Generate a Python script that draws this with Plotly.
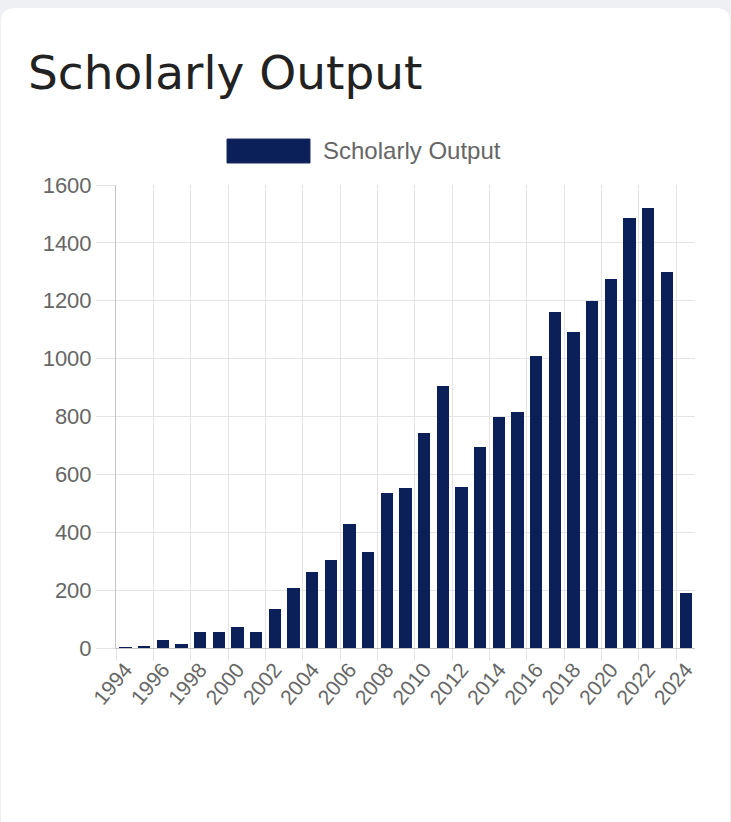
import plotly.graph_objects as go

years = list(range(1994, 2025))
output = [1, 6, 27, 15, 55, 57, 73, 55, 136, 207, 263, 303, 430, 332, 536, 553,
          743, 905, 557, 695, 797, 816, 1010, 1162, 1093, 1199, 1275, 1487, 1521,
          1300, 191]
label_years = years[::2]

W, H = 731, 822
L, R, T, B = 116, 36, 185, 174
NAVY = "#0b1f59"
GRID = "#e4e4e4"
AXIS = "#c4c4c4"
TXT = "#666666"


def px(x, y):
    # pixel position -> paper coords of the plot area
    return (x - L) / (W - L - R), (H - B - y) / (H - T - B)


fig = go.Figure()
fig.add_trace(go.Bar(
    x=years,
    y=output,
    width=0.66,
    marker=dict(color=NAVY, line=dict(width=0)),
    name="Scholarly Output",
    showlegend=False,
))

x0, y0 = px(1, 8)
x1, y1 = px(730, 840)
r = 14 / (W - L - R)
ry = 14 / (H - T - B)
card = (f"M {x0},{y0 - ry} Q {x0},{y0} {x0 + r},{y0} L {x1 - r},{y0} "
        f"Q {x1},{y0} {x1},{y0 - ry} L {x1},{y1} L {x0},{y1} Z")

lx0, ly0 = px(227, 139)
lx1, ly1 = px(310, 163)
tx, ty = px(321, 150)

fig.update_layout(
    width=W,
    height=H,
    margin=dict(l=L, r=R, t=T, b=B),
    paper_bgcolor="#eef0f3",
    plot_bgcolor="rgba(0,0,0,0)",
    font=dict(family="Liberation Sans, Arial", color=TXT, size=21),
    title=dict(
        text="Scholarly Output",
        xref="container", yref="container",
        x=28 / W, xanchor="left",
        y=1 - 73 / H, yanchor="middle",
        font=dict(family="DejaVu Sans", size=47, color="#222222"),
    ),
    shapes=[
        dict(type="path", path=card, xref="paper", yref="paper",
             fillcolor="white", line=dict(width=0), layer="below"),
        dict(type="rect", xref="paper", yref="paper",
             x0=lx0, x1=lx1, y0=ly0, y1=ly1,
             fillcolor=NAVY, line=dict(width=1, color="#1c2c60")),
    ],
    annotations=[
        dict(text="Scholarly Output", xref="paper", yref="paper",
             x=tx, y=ty, xanchor="left", yanchor="middle", showarrow=False,
             font=dict(size=24, color=TXT)),
    ],
    bargap=0,
)

fig.update_xaxes(
    range=[1993.5, 2024.5],
    tickvals=label_years,
    ticktext=[str(y) for y in label_years],
    tickangle=-50,
    ticks="",
    showgrid=False,
    showline=True,
    linecolor=AXIS,
    linewidth=1,
    tickfont=dict(size=21, color=TXT),
    minor=dict(
        tickvals=[y - 0.5 for y in label_years],
        ticks="outside",
        ticklen=12,
        tickcolor=GRID,
        showgrid=True,
        gridcolor=GRID,
    ),
)
fig.update_yaxes(
    range=[0, 1600],
    dtick=200,
    ticks="outside",
    ticklen=19,
    tickcolor=GRID,
    gridcolor=GRID,
    showline=True,
    linecolor=AXIS,
    linewidth=1,
    zeroline=False,
    tickfont=dict(size=22, color=TXT),
)

fig.write_html(
    "out.html",
    config={"displayModeBar": False},
    post_script="document.body.style.margin='0';document.body.style.overflow='hidden';",
)
